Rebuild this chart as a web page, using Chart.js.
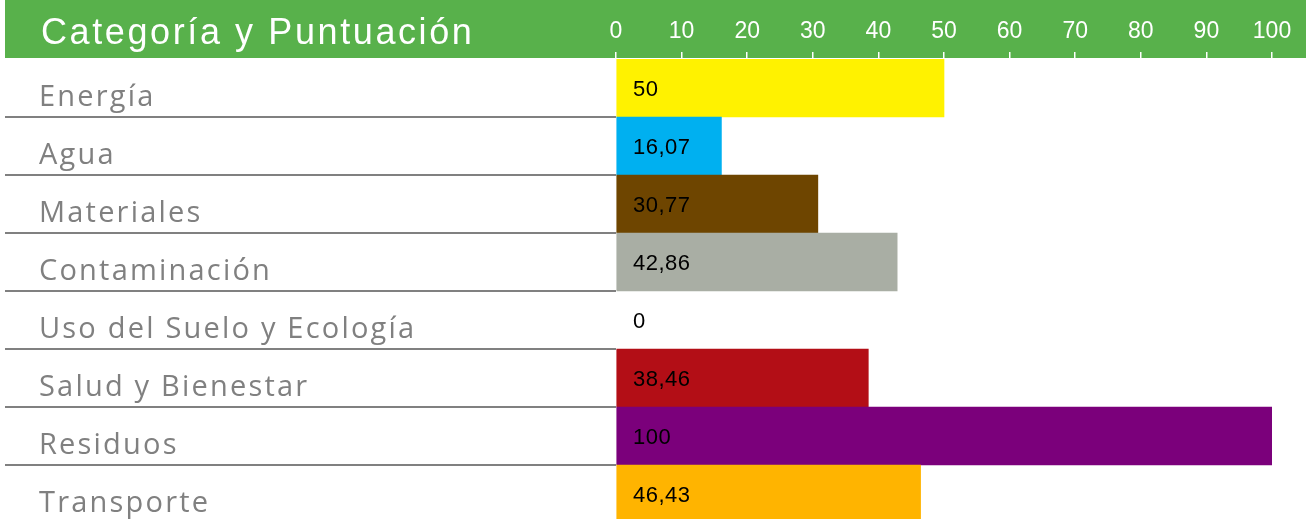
<!DOCTYPE html>
<html lang="es">
<head>
<meta charset="utf-8">
<title>Categoría y Puntuación</title>
<script src="https://cdn.jsdelivr.net/npm/chart.js@4.4.1/dist/chart.umd.min.js"></script>
<style>
  html, body { margin: 0; padding: 0; background: #fff; overflow: hidden; }
  canvas { display: block; }
</style>
</head>
<body>
<canvas id="grafico" width="1306" height="523"></canvas>
<script>
// ===== datos =====
const titulo = "Categoría y Puntuación";
const categorias = ["Energía", "Agua", "Materiales", "Contaminación", "Uso del Suelo y Ecología", "Salud y Bienestar", "Residuos", "Transporte"];
const puntuaciones = [50, 16.07, 30.77, 42.86, 0, 38.46, 100, 46.43];
const coloresBarras = ["#FFF200", "#00B0F0", "#6E4500", "#A9AEA4", "#FFFFFF", "#B30E16", "#7B007B", "#FFB400"];
const escalaMin = 0;
const escalaMax = 100;
const pasoEscala = 10;

const VERDE = "#58B14B";
const GRIS = "#808080";

// fondo verde de la cabecera + título
const cabecera = {
  id: "cabecera",
  beforeDraw(chart) {
    const ctx = chart.ctx;
    const top = chart.chartArea.top;
    ctx.save();
    ctx.fillStyle = VERDE;
    ctx.fillRect(5, 0, chart.width - 5, top - 1);
    ctx.fillStyle = "#fff";
    ctx.font = "36px 'Liberation Sans', Arial, sans-serif";
    ctx.letterSpacing = "2.6px";
    ctx.textBaseline = "alphabetic";
    ctx.textAlign = "left";
    ctx.fillText(titulo, 41, 44);
    ctx.restore();
  }
};

// nombres de categoría y valores dentro de las barras
const etiquetas = {
  id: "etiquetas",
  afterDraw(chart) {
    const ctx = chart.ctx;
    const y = chart.scales.y;
    const x = chart.scales.x;
    ctx.save();
    ctx.textAlign = "left";
    ctx.textBaseline = "alphabetic";
    categorias.forEach((cat, i) => {
      const cy = y.getPixelForValue(i);
      ctx.fillStyle = GRIS;
      ctx.font = "29px 'Open Sans', sans-serif";
      ctx.letterSpacing = "2.2px";
      ctx.fillText(cat, 39, cy + 18);

      ctx.fillStyle = "#000";
      ctx.font = "22px 'Liberation Sans', Arial, sans-serif";
      ctx.letterSpacing = "0.5px";
      const txt = String(puntuaciones[i]).replace(".", ",");
      ctx.fillText(txt, x.getPixelForValue(escalaMin) + 17, cy + 8);
    });
    ctx.restore();
  }
};

new Chart(document.getElementById("grafico"), {
  type: "bar",
  data: {
    labels: categorias,
    datasets: [{
      data: puntuaciones,
      backgroundColor: coloresBarras,
      borderWidth: 0,
      barPercentage: 1,
      categoryPercentage: 1
    }]
  },
  options: {
    indexAxis: "y",
    responsive: false,
    animation: false,
    devicePixelRatio: 1,
    layout: { padding: { left: 0, right: 34, top: 0, bottom: 0 } },
    plugins: {
      legend: { display: false },
      tooltip: { enabled: false }
    },
    scales: {
      x: {
        position: "top",
        min: escalaMin,
        max: escalaMax,
        ticks: {
          stepSize: pasoEscala,
          color: "#fff",
          padding: 7,
          maxRotation: 0,
          autoSkip: false,
          font: { family: "'Liberation Sans', Arial, sans-serif", size: 23 }
        },
        grid: { drawOnChartArea: false, color: "#fff", tickLength: 7, lineWidth: 1.5 },
        border: { color: "#fff", width: 1.5 },
        afterFit: s => { s.height = 59; }
      },
      y: {
        ticks: { display: false },
        grid: {
          offset: true,
          drawOnChartArea: false,
          tickLength: 611,
          lineWidth: 2,
          color: c => c.index === 0 ? "rgba(0,0,0,0)" : GRIS
        },
        border: { display: false },
        afterFit: s => { s.width = 616; }
      }
    }
  },
  plugins: [cabecera, etiquetas]
});
</script>
</body>
</html>
